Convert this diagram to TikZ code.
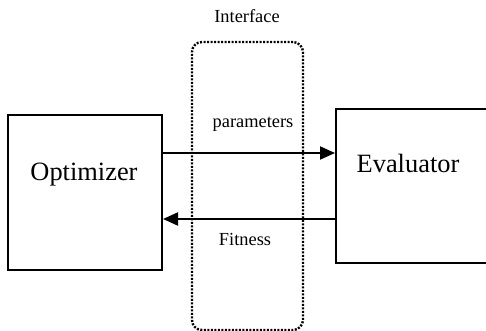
\documentclass[tikz,border=0pt]{standalone}
\usepackage{fontspec}
\setmainfont{Liberation Serif}
\usetikzlibrary{arrows.meta}

\begin{document}
\begin{tikzpicture}[x=0.5pt,y=-0.5pt,line width=1pt,
  block/.style={draw,rectangle,inner sep=0pt},
  flow/.style={-{Triangle[length=7.5pt,width=6.5pt]}},
  bigtext/.style={anchor=base,font=\fontsize{13.2}{15}\selectfont},
  smalltext/.style={anchor=base,font=\fontsize{9.2}{11}\selectfont}]
\useasboundingbox (0,0) rectangle (486,331);
% boxes
\node[block,minimum width=77pt,minimum height=77.5pt] (opt) at (85,192.5) {};
\node[block,minimum width=92pt,minimum height=77pt] (eval) at (428,186) {};
\node[draw,line width=1.2pt,dash pattern=on 1pt off 0.75pt,rounded corners=5pt,
  minimum width=55.5pt,minimum height=144pt] (iface) at (247.5,186) {};
% texts
\node[bigtext] (optText) at (84,180) {Optimizer};
\node[bigtext] (evalText) at (408,173) {Evaluator};
\node[smalltext] (ifaceText) at (247,23) {Interface};
\node[smalltext] (paramText) at (253,128) {parameters};
\node[smalltext] (fitText) at (245,245) {Fitness};
% arrows
\coordinate (paramIn) at ([yshift=16.5pt]eval.west);
\coordinate (fitOut) at ([yshift=-16.5pt]eval.west);
\draw[flow] (opt.east |- paramIn) -- (paramIn);
\draw[flow] (fitOut) -- (opt.east |- fitOut);
\end{tikzpicture}
\end{document}
